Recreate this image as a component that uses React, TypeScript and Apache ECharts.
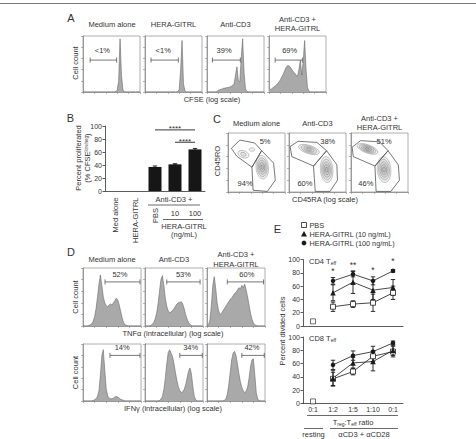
import React, { useEffect, useRef } from 'react';
import * as echarts from 'echarts';

const FONT = '"Liberation Sans", Arial, sans-serif';
const TXT = '#333';

// ---------- Panel A: CFSE histograms (41 bins, log channel) ----------
const aTitles = ['Medium alone', 'HERA-GITRL', 'Anti-CD3', 'Anti-CD3 +\nHERA-GITRL'];
const aMedium = [0,0,0,0,0,0,0,0,0,0, 0,0,0,0,0,0,0,0,0,0, 0,0,0,1,3,20,95,30,4,0, 0,0,0,0,0,0,0,0,0,0, 0];
const aHera = [0,0,0,0,0,0,0,0,0,0, 0,0,0,0,0,0,0,0,0,0, 0,0,0,1,4,40,92,15,2,0, 0,0,0,0,0,0,0,0,0,0, 0];
const aAntiCD3 = [0,0,0,0,0,0,0,1,3,4, 5,6,7,7,8,8,9,10,12,14, 30,45,20,18,60,95,35,6,1,0, 0,0,0,0,0,0,0,0,0,0, 0];
const aCombo = [8,4,6,8,10,12,15,18,22,27, 32,38,44,47,47,44,40,36,34,30, 28,40,57,30,55,92,40,8,2,0, 0,0,0,0,0,0,0,0,0,0, 0];
const aGates = [[5, 23.6, 57, 13.6, 75], [4.2, 23.4, 57, 12.8, 75], [3.8, 23.4, 57, 12, 75], [4.3, 23.4, 57, 14.5, 75]];
const aGateLabels = ['<1%', '<1%', '39%', '69%'];

// ---------- Panel B: percent proliferated ----------
const bCategories = ['Med alone', 'HERA-GITRL', 'PBS', '10', '100'];
const bValues = [0, 0, 37, 41, 64];
const bErrors = [0, 0, 1.5, 1, 1.5];
const bSig = [[2, 4, 94], [3, 4, 75]];
const bSigLabels = ['****', '****'];

// ---------- Panel C: CD45RO vs CD45RA ----------
const cTitles = ['Medium alone', 'Anti-CD3', 'Anti-CD3 +\nHERA-GITRL'];
const cGateUpper = [
  [[6, 74], [21, 88], [47, 83], [59, 70], [42, 42], [15, 61]],
  [[2, 77], [16, 86], [49, 84], [66, 70], [43, 44], [5, 60]],
  [[2, 76], [17, 87], [50, 85], [65, 70], [42, 44], [4, 60]],
];
const cGateLower = [
  [[59, 70], [80, 49], [83, 20], [69, 1], [44, 3], [42, 42]],
  [[66, 70], [84, 46], [85, 20], [72, 1], [46, 1], [43, 44]],
  [[65, 70], [83, 46], [85, 20], [70, 1], [44, 1], [42, 44]],
];
// density blobs: [cx, cy, rx, ry, rotationDeg, levels]
const cBlobs = [
  [[60, 42, 11, 20, 5, 5], [27, 64, 10, 6, -20, 2], [42, 72, 5, 3, 0, 1]],
  [[35, 72, 19, 7, -18, 4], [66, 38, 11, 22, 4, 5]],
  [[29, 73, 19, 7, -20, 5], [58, 38, 12, 22, 5, 5]],
];
const cLabelPos = [
  [[65, 86], [30, 15]],
  [[68, 86], [28, 15]],
  [[58, 86], [26, 15]],
];
const cLabels = [['5%', '94%'], ['38%', '60%'], ['51%', '46%']];

// ---------- Panel D: cytokine histograms ----------
const dTitles = ['Medium alone', 'Anti-CD3', 'Anti-CD3 +\nHERA-GITRL'];
const dTnfMedium = [0,0,0,0,1,2,4,8,16,30, 50,72,88,70,50,40,35,33,36,38, 36,40,44,48,45,36,25,14,6,2, 1,0,0,0,0,0,0,0,0,0, 0];
const dTnfAntiCD3 = [0,0,0,0,1,3,6,12,22,38, 60,80,87,70,48,34,26,23,24,27, 30,34,38,40,41,42,38,30,20,12, 6,3,1,0,0,0,0,0,0,0, 0];
const dTnfCombo = [0,2,10,35,70,85,65,40,26,20, 22,26,30,34,38,42,46,48,52,56, 58,62,66,64,70,66,72,62,50,36, 22,12,5,2,1,0,0,0,0,0, 0];
const dIfnMedium = [0,0,0,0,0,0,0,1,2,4, 8,18,45,80,90,55,22,9,5,4, 4,5,7,8,7,5,3,2,1,0, 0,0,0,0,0,0,0,0,0,0, 0];
const dIfnAntiCD3 = [0,0,0,0,0,0,0,0,0,0, 1,3,8,20,40,65,85,90,84,78, 65,50,36,25,18,15,16,20,28,40, 52,58,48,25,8,2,0,0,0,0, 0];
const dIfnCombo = [0,0,0,0,0,0,0,0,0,0, 0,0,1,4,12,28,50,72,84,87, 80,65,48,34,24,18,15,17,24,40, 60,72,74,45,14,3,1,0,0,0, 0];
const dGates = [
  [15.2, 39.3, 76, 25.5, 88], [15, 38, 76, 26.5, 88], [14, 39, 76, 27.5, 88],
  [18.6, 39.3, 80, 27, 93], [24, 39.5, 80, 31.5, 93], [24, 39.5, 80, 31, 93],
];
const dGateLabels = ['52%', '53%', '60%', '14%', '34%', '42%'];

// ---------- Panel E: suppression assay ----------
const ratioCats = ['0:1', '1:2', '1:5', '1:10', '0:1'];
const seriesNames = ['PBS', 'HERA-GITRL (10 ng/mL)', 'HERA-GITRL (100 ng/mL)'];
const cd4Pbs = ['-', 29, 33, 35, 50];
const cd4PbsErr = [0, 7, 5, 13, 10];
const cd4Hera10 = ['-', 50, 66, 54, 58];
const cd4Hera10Err = [0, 12, 17, 14, 12];
const cd4Hera100 = ['-', 68, 78, 68, 83];
const cd4Hera100Err = [0, 5, 4, 6, 2];
const cd4Resting = [7];
const cd4Stars = [[1, 83], [2, 92], [3, 85], [4, 98]];
const cd4StarLabels = ['*', '**', '*', '*'];
const cd8Pbs = ['-', 37, 48, 71, 78];
const cd8PbsErr = [0, 10, 5, 8, 8];
const cd8Hera10 = ['-', 38, 61, 63, 80];
const cd8Hera10Err = [0, 12, 8, 14, 8];
const cd8Hera100 = ['-', 58, 72, 78, 91];
const cd8Hera100Err = [0, 7, 7, 8, 3];
const cd8Resting = [3];

function buildOption() {
  const grids: any[] = [];
  const xAxes: any[] = [];
  const yAxes: any[] = [];
  const series: any[] = [];
  const graphic: any[] = [];

  const axisLine = { lineStyle: { color: '#888', width: 0.8 } };
  const tick = { length: 2, lineStyle: { color: '#888', width: 0.6 } };

  function addGrid(g: any, xa: any, ya: any) {
    const idx = grids.length;
    grids.push(Object.assign({ containLabel: false }, g));
    xAxes.push(Object.assign({ gridIndex: idx }, xa));
    yAxes.push(Object.assign({ gridIndex: idx }, ya));
    return idx;
  }

  function boxGrid(left: number, top: number, width: number, height: number, xmax: number, xint: number) {
    return addGrid(
      { left, top, width, height, show: true, borderColor: '#999', borderWidth: 0.8, backgroundColor: 'transparent' },
      { type: 'value', min: 0, max: xmax, interval: xint, axisLine, axisTick: tick, axisLabel: { show: false }, splitLine: { show: false } },
      { type: 'value', min: 0, max: 100, interval: 20, axisLine, axisTick: tick, axisLabel: { show: false }, splitLine: { show: false } }
    );
  }

  function histSeries(gi: number, arr: number[]) {
    series.push({
      type: 'line', xAxisIndex: gi, yAxisIndex: gi, silent: true,
      data: arr.map((v, i) => [i, v]), symbol: 'none',
      lineStyle: { color: '#6a6a6a', width: 0.6 },
      areaStyle: { color: '#a9a9a9', opacity: 1 },
    });
  }

  function gateSeries(gi: number, g: number[], label: string) {
    series.push({
      type: 'custom', xAxisIndex: gi, yAxisIndex: gi, silent: true, clip: false,
      data: [g],
      renderItem: (_p: any, api: any) => {
        const p1 = api.coord([api.value(0), api.value(2)]);
        const p2 = api.coord([api.value(1), api.value(2)]);
        const pl = api.coord([api.value(3), api.value(4)]);
        const st = { stroke: '#555', lineWidth: 0.8 };
        return {
          type: 'group',
          children: [
            { type: 'line', shape: { x1: p1[0], y1: p1[1], x2: p2[0], y2: p2[1] }, style: st },
            { type: 'line', shape: { x1: p1[0], y1: p1[1] - 2.5, x2: p1[0], y2: p1[1] + 2.5 }, style: st },
            { type: 'line', shape: { x1: p2[0], y1: p2[1] - 2.5, x2: p2[0], y2: p2[1] + 2.5 }, style: st },
            { type: 'text', style: { text: label, x: pl[0], y: pl[1], align: 'center', verticalAlign: 'middle', fontSize: 7.5, fontFamily: FONT, fill: TXT } },
          ],
        };
      },
    });
  }

  function textSeries(gi: number, pts: number[][], labels: string[], size: number) {
    series.push({
      type: 'custom', xAxisIndex: gi, yAxisIndex: gi, silent: true, clip: false,
      data: pts,
      renderItem: (p: any, api: any) => {
        const c = api.coord([api.value(0), api.value(1)]);
        return { type: 'text', style: { text: labels[p.dataIndex], x: c[0], y: c[1], align: 'center', verticalAlign: 'middle', fontSize: size, fontFamily: FONT, fill: TXT } };
      },
    });
  }

  function errSeries(gi: number, vals: any[], errs: number[], color: string) {
    const data: any[] = [];
    vals.forEach((v, i) => { if (v !== '-' && errs[i] > 0) data.push([i, v, errs[i]]); });
    series.push({
      type: 'custom', xAxisIndex: gi, yAxisIndex: gi, silent: true, clip: false, z: 1,
      data,
      renderItem: (_p: any, api: any) => {
        const hi = api.coord([api.value(0), api.value(1) + api.value(2)]);
        const lo = api.coord([api.value(0), api.value(1) - api.value(2)]);
        const st = { stroke: color, lineWidth: 0.9 };
        return {
          type: 'group',
          children: [
            { type: 'line', shape: { x1: hi[0], y1: hi[1], x2: lo[0], y2: lo[1] }, style: st },
            { type: 'line', shape: { x1: hi[0] - 2.2, y1: hi[1], x2: hi[0] + 2.2, y2: hi[1] }, style: st },
            { type: 'line', shape: { x1: lo[0] - 2.2, y1: lo[1], x2: lo[0] + 2.2, y2: lo[1] }, style: st },
          ],
        };
      },
    });
  }

  function txt(text: string, x: number, y: number, o: any = {}) {
    graphic.push({
      type: 'text', x, y, rotation: o.rot || 0, silent: true,
      style: Object.assign({
        text, fontSize: 7.5, fontFamily: FONT, fill: TXT,
        align: o.align || 'center', verticalAlign: 'middle',
      }, o.style || {}),
    });
  }
  function ln(x1: number, y1: number, x2: number, y2: number, color = '#444', w = 0.8) {
    graphic.push({ type: 'line', silent: true, shape: { x1, y1, x2, y2 }, style: { stroke: color, lineWidth: w } });
  }

  // top rule
  ln(0, 3.5, 476, 3.5, '#777', 1);

  // ---- A ----
  const aData = [aMedium, aHera, aAntiCD3, aCombo];
  const aLefts = [83, 145, 207, 269];
  aData.forEach((arr, i) => {
    const gi = boxGrid(aLefts[i], 36, 57, 56, 40, 8);
    histSeries(gi, arr);
    gateSeries(gi, aGates[i], aGateLabels[i]);
  });
  txt('A', 71, 17.5, { style: { fontSize: 11 } });
  txt(aTitles[0], 112, 24);
  txt(aTitles[1], 173.5, 24);
  txt(aTitles[2], 235.5, 24);
  txt(aTitles[3], 297.5, 24, { style: { lineHeight: 9.5 } });
  txt('Cell count', 75, 63, { rot: Math.PI / 2 });
  txt('CFSE (log scale)', 212, 99);

  // ---- B ----
  const bi = addGrid(
    { left: 105, top: 126, width: 100, height: 65 },
    { type: 'category', data: bCategories, axisLine: { lineStyle: { color: '#333', width: 0.8 } }, axisTick: { alignWithLabel: true, length: 2.5, lineStyle: { color: '#333', width: 0.8 } }, axisLabel: { show: false } },
    { type: 'value', min: 0, max: 100, interval: 20, axisLine: { show: true, lineStyle: { color: '#333', width: 0.8 } }, axisTick: { show: true, length: 2.5, lineStyle: { color: '#333', width: 0.8 } }, axisLabel: { fontSize: 7, color: TXT, fontFamily: FONT, margin: 3 }, splitLine: { show: false } }
  );
  series.push({ type: 'bar', xAxisIndex: bi, yAxisIndex: bi, data: bValues, barWidth: 13, itemStyle: { color: '#161616' }, silent: true });
  errSeries(bi, bValues, bErrors, '#161616');
  series.push({
    type: 'custom', xAxisIndex: bi, yAxisIndex: bi, silent: true, clip: false, data: bSig,
    renderItem: (p: any, api: any) => {
      const a = api.coord([api.value(0), api.value(2)]);
      const b = api.coord([api.value(1), api.value(2)]);
      return {
        type: 'group', children: [
          { type: 'line', shape: { x1: a[0], y1: a[1], x2: b[0], y2: b[1] }, style: { stroke: '#222', lineWidth: 0.9 } },
          { type: 'text', style: { text: bSigLabels[p.dataIndex], x: (a[0] + b[0]) / 2, y: a[1] - 1, align: 'center', verticalAlign: 'middle', fontSize: 8, fontFamily: FONT, fill: TXT } },
        ],
      };
    },
  });
  txt('B', 70.5, 118, { style: { fontSize: 11 } });
  txt('Percent proliferated', 78.5, 158, { rot: Math.PI / 2 });
  txt('(% CFSE{s|low/neg})', 87.5, 158, { rot: Math.PI / 2, style: { rich: { s: { fontSize: 4.5, verticalAlign: 'top', fontFamily: FONT, fill: TXT } } } });
  txt(bCategories[0], 115, 197.5, { rot: Math.PI / 2, align: 'right' });
  txt(bCategories[1], 135, 197.5, { rot: Math.PI / 2, align: 'right' });
  txt(bCategories[2], 155, 208, { rot: Math.PI / 2, align: 'right' });
  txt('Anti-CD3 +', 174, 199);
  ln(148, 205, 200, 205);
  txt(bCategories[3], 175, 213.5);
  txt(bCategories[4], 195, 213.5);
  ln(163, 219.5, 203, 219.5);
  txt('HERA-GITRL', 184, 226);
  txt('(ng/mL)', 184, 234.5);

  // ---- C ----
  const cLefts = [228, 289, 351];
  cLefts.forEach((left, i) => {
    const gi = boxGrid(left, 133, 57, 59, 100, 20);
    series.push({
      type: 'custom', xAxisIndex: gi, yAxisIndex: gi, silent: true, clip: true, data: cBlobs[i],
      renderItem: (_p: any, api: any) => {
        const c = api.coord([api.value(0), api.value(1)]);
        const s = api.size([api.value(2), api.value(3)]);
        const rot = (api.value(4) * Math.PI) / 180;
        const lv = api.value(5);
        const children: any[] = [];
        for (let k = lv; k >= 1; k--) {
          const f = k / lv;
          children.push({ type: 'ellipse', x: c[0], y: c[1], rotation: rot, shape: { cx: 0, cy: 0, rx: s[0] * f, ry: s[1] * f }, style: { fill: 'rgba(60,60,60,0.08)', stroke: 'rgba(70,70,70,0.55)', lineWidth: 0.5 } });
        }
        return { type: 'group', children };
      },
    });
    [cGateUpper[i], cGateLower[i]].forEach((poly) => {
      series.push({ type: 'line', xAxisIndex: gi, yAxisIndex: gi, silent: true, symbol: 'none', data: poly.concat([poly[0]]), lineStyle: { color: '#555', width: 0.8 } });
    });
    textSeries(gi, cLabelPos[i], cLabels[i], 7.5);
  });
  txt('C', 217, 119, { style: { fontSize: 11 } });
  txt(cTitles[0], 256.5, 123);
  txt(cTitles[1], 317.5, 123);
  txt(cTitles[2], 379.5, 123, { style: { lineHeight: 9.5 } });
  txt('CD45RO', 217.5, 161, { rot: Math.PI / 2 });
  txt('CD45RA (log scale)', 325, 199);

  // ---- D ----
  const dData = [dTnfMedium, dTnfAntiCD3, dTnfCombo, dIfnMedium, dIfnAntiCD3, dIfnCombo];
  const dLefts = [83, 145, 207];
  dData.forEach((arr, i) => {
    const row = Math.floor(i / 3);
    const gi = boxGrid(dLefts[i % 3], row === 0 ? 268 : 344, 58, row === 0 ? 58 : 57, 40, 8);
    histSeries(gi, arr);
    gateSeries(gi, dGates[i], dGateLabels[i]);
  });
  txt('D', 71, 251.5, { style: { fontSize: 11 } });
  txt(dTitles[0], 112, 259.5);
  txt(dTitles[1], 174, 259.5);
  txt(dTitles[2], 236, 259.5, { style: { lineHeight: 9.5 } });
  txt('Cell count', 75, 297, { rot: Math.PI / 2 });
  txt('Cell count', 75, 372.5, { rot: Math.PI / 2 });
  txt('TNFα (intracellular) (log scale)', 173, 333);
  txt('IFNγ (intracellular) (log scale)', 173, 408);

  // ---- E ----
  const symbols = ['rect', 'triangle', 'circle'];
  const symSizes = [5, 5.5, 4.5];
  const symStyles = [
    { color: '#fff', borderColor: '#222', borderWidth: 0.8 },
    { color: '#1a1a1a' },
    { color: '#1a1a1a' },
  ];
  function eGrid(top: number, showLabels: boolean) {
    return addGrid(
      { left: 303, top, width: 100, height: 66.4 },
      { type: 'category', data: ratioCats, boundaryGap: true, axisLine: { lineStyle: { color: '#333', width: 0.8 } }, axisTick: { alignWithLabel: true, length: 2.5, lineStyle: { color: '#333', width: 0.8 } }, axisLabel: { show: showLabels, fontSize: 7, color: TXT, fontFamily: FONT, margin: 3, interval: 0 } },
      { type: 'value', min: 0, max: 100, interval: 20, axisLine: { show: true, lineStyle: { color: '#333', width: 0.8 } }, axisTick: { show: true, length: 2.5, lineStyle: { color: '#333', width: 0.8 } }, axisLabel: { fontSize: 7, color: TXT, fontFamily: FONT, margin: 3 }, splitLine: { show: false } }
    );
  }
  function eSeries(gi: number, vals: any[][], errs: number[][], resting: number[]) {
    vals.forEach((v, k) => errSeries(gi, v, errs[k], '#1a1a1a'));
    vals.forEach((v, k) => {
      series.push({
        type: 'line', name: seriesNames[k], xAxisIndex: gi, yAxisIndex: gi, silent: true, z: 3,
        data: v, symbol: symbols[k], symbolSize: symSizes[k], showSymbol: true,
        lineStyle: { color: '#1a1a1a', width: 0.8 }, itemStyle: symStyles[k],
      });
    });
    series.push({
      type: 'scatter', xAxisIndex: gi, yAxisIndex: gi, silent: true, z: 3,
      data: resting.map((r) => [0, r]), symbol: 'rect', symbolSize: 5, itemStyle: symStyles[0],
    });
  }
  const e1 = eGrid(259.6, false);
  eSeries(e1, [cd4Pbs, cd4Hera10, cd4Hera100], [cd4PbsErr, cd4Hera10Err, cd4Hera100Err], cd4Resting);
  textSeries(e1, cd4Stars, cd4StarLabels, 8.5);
  const e2 = eGrid(337, true);
  eSeries(e2, [cd8Pbs, cd8Hera10, cd8Hera100], [cd8PbsErr, cd8Hera10Err, cd8Hera100Err], cd8Resting);

  // legend (drawn as graphic for exact placement)
  const legY = [225, 234, 243];
  const legX = 304;
  graphic.push({ type: 'rect', silent: true, shape: { x: legX - 2.5, y: legY[0] - 2.5, width: 5, height: 5 }, style: { fill: '#fff', stroke: '#222', lineWidth: 0.8 } });
  graphic.push({ type: 'polygon', silent: true, shape: { points: [[legX, legY[1] - 3], [legX + 3, legY[1] + 2.5], [legX - 3, legY[1] + 2.5]] }, style: { fill: '#1a1a1a' } });
  graphic.push({ type: 'circle', silent: true, shape: { cx: legX, cy: legY[2], r: 2.4 }, style: { fill: '#1a1a1a' } });
  seriesNames.forEach((n, k) => txt(n, legX + 5.5, legY[k], { align: 'left', style: { fontSize: 7.3 } }));

  txt('E', 277.5, 229, { style: { fontSize: 11 } });
  txt('Percent divided cells', 282, 331, { rot: Math.PI / 2 });
  const sub = { s: { fontSize: 5, verticalAlign: 'bottom', fontFamily: FONT, fill: TXT, padding: [3, 0, 0, 0] } };
  txt('CD4 T{s|eff}', 309, 261, { align: 'left', style: { rich: sub } });
  txt('CD8 T{s|eff}', 309, 338.5, { align: 'left', style: { rich: sub } });
  ln(307, 415.5, 398, 415.5);
  txt('T{s|reg}:T{s|eff} ratio', 353, 422, { style: { rich: sub } });
  ln(304, 428.5, 323, 428.5);
  ln(330, 428.5, 398, 428.5);
  txt('resting', 313.5, 434.5);
  txt('αCD3 + αCD28', 364, 434.5);

  return {
    animation: false,
    backgroundColor: '#fff',
    grid: grids,
    xAxis: xAxes,
    yAxis: yAxes,
    series,
    graphic,
  };
}

export default function App() {
  const ref = useRef<HTMLDivElement>(null);
  useEffect(() => {
    if (!ref.current) return;
    const chart = echarts.init(ref.current, undefined, { renderer: 'svg' });
    chart.setOption(buildOption() as any);
    return () => chart.dispose();
  }, []);
  return <div ref={ref} style={{ position: 'absolute', left: 0, top: 0, width: 476, height: 439 }} />;
}
